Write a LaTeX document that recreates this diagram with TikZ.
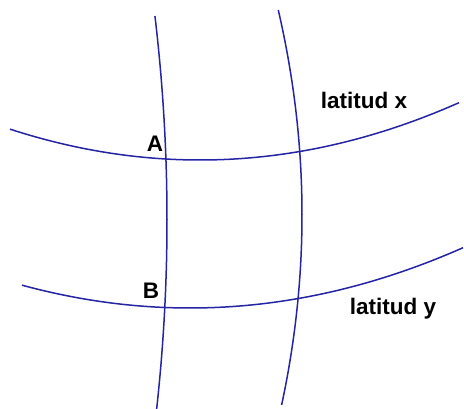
\documentclass[tikz,border=0pt]{standalone}
\usepackage{fontspec}
\setmainfont{Liberation Sans}
\definecolor{lineblue}{RGB}{36,36,165}
\begin{document}
\begin{tikzpicture}[x=1pt,y=-1pt,
  gridline/.style={draw=lineblue,line width=1.5pt,samples=60,smooth},
  lbl/.style={font=\bfseries\fontsize{22.5}{22.5}\selectfont,inner sep=0pt,text=black}]
\useasboundingbox (0,0) rectangle (464,409);
% latitude x
\draw[gridline] plot[domain=10:459] (\x,{160-0.00086*(\x-200)*(\x-200)});
% latitude y
\draw[gridline] plot[domain=22:463] (\x,{308-0.000815*(\x-190)*(\x-190)});
% left meridian
\draw[gridline] plot[domain=16:409] ({167-0.000291*(\x-220)*(\x-220)},\x);
% right meridian
\draw[gridline] plot[domain=10:405] ({302-0.000571*(\x-215)*(\x-215)},\x);
\node[lbl] (A) at (155,144) {A};
\node[lbl] (B) at (151,291) {B};
\node[lbl] (lx) at (364,100) {latitud x};
\node[lbl] (ly) at (393,309) {latitud y};
\end{tikzpicture}
\end{document}
